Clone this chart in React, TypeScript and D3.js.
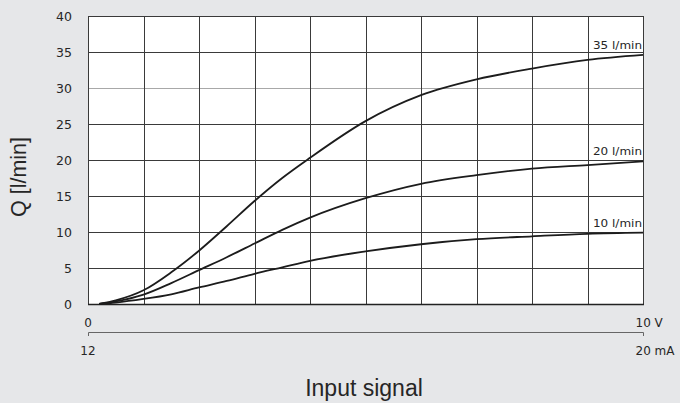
import React from "react";
import * as d3 from "d3";

const inputV = [0.2, 0.5, 1, 1.5, 2, 2.5, 3, 3.5, 4, 5, 6, 7, 8, 9, 10];
const flow35 = [0, 0.5, 1.9, 4.4, 7.4, 10.8, 14.3, 17.5, 20.3, 25.4, 29.0, 31.2, 32.7, 33.9, 34.6];
const flow20 = [0, 0.35, 1.3, 2.9, 4.7, 6.5, 8.4, 10.3, 12.0, 14.7, 16.7, 17.9, 18.8, 19.3, 19.8];
const flow10 = [0, 0.2, 0.7, 1.35, 2.3, 3.2, 4.2, 5.1, 6.0, 7.3, 8.3, 9.0, 9.4, 9.75, 9.9];
const seriesNames = ["35 l/min", "20 l/min", "10 l/min"];
const seriesValues = [flow35, flow20, flow10];
const yTicks = [0, 5, 10, 15, 20, 25, 30, 35, 40];
const xGrid = [0, 1, 2, 3, 4, 5, 6, 7, 8, 9, 10];
const voltLabels = ["0", "10"];
const currentLabels = ["12", "20"];
const voltUnit = "V";
const currentUnit = "mA";
const yTitle = "Q [l/min]";
const xTitle = "Input signal";

const W = 680;
const H = 403;
const left = 88;
const right = 643;
const top = 16;
const bottom = 304;

export default function App() {
  const x = d3.scaleLinear().domain([0, 10]).range([left, right]);
  const y = d3.scaleLinear().domain([0, 40]).range([bottom, top]);
  const line = d3
    .line<number>()
    .x((_, i) => x(inputV[i]))
    .y((d) => y(d))
    .curve(d3.curveMonotoneX);

  const tickFont = "'DejaVu Sans', Verdana, sans-serif";
  const dark = "#262626";

  return (
    <svg
      width={W}
      height={H}
      style={{ position: "fixed", left: 0, top: 0, display: "block" }}
    >
      <rect x={0} y={0} width={W} height={H} fill="#e6e7e9" />
      <rect x={left} y={top} width={right - left} height={bottom - top} fill="#ffffff" />
      {yTicks.map((t) => (
        <line
          key={"h" + t}
          x1={left}
          x2={right}
          y1={Math.round(y(t)) + 0.5}
          y2={Math.round(y(t)) + 0.5}
          stroke={t === 30 ? "#a8a8a8" : "#3a3a3a"}
          strokeWidth={1}
        />
      ))}
      {xGrid.map((t) => (
        <line
          key={"v" + t}
          x1={Math.round(x(t)) + 0.5}
          x2={Math.round(x(t)) + 0.5}
          y1={top}
          y2={bottom}
          stroke="#3a3a3a"
          strokeWidth={1}
        />
      ))}
      <line x1={left} x2={right + 1} y1={bottom + 0.5} y2={bottom + 0.5} stroke="#222" strokeWidth={1.3} />
      {seriesValues.map((vals, i) => (
        <path
          key={seriesNames[i]}
          d={line(vals) || ""}
          fill="none"
          stroke="#1c1c1c"
          strokeWidth={1.8}
        />
      ))}
      {seriesValues.map((vals, i) => (
        <text
          key={"l" + i}
          x={right - 1}
          y={y(vals[vals.length - 1]) - 6}
          textAnchor="end"
          fontFamily={tickFont}
          fontSize={10.5}
          fill={dark}
          textLength={49}
          lengthAdjust="spacingAndGlyphs"
        >
          {seriesNames[i]}
        </text>
      ))}
      {yTicks.map((t) => (
        <text
          key={"yt" + t}
          x={72}
          y={y(t)}
          dy="0.36em"
          textAnchor="end"
          fontFamily={tickFont}
          fontSize={12.5}
          fill={dark}
        >
          {t}
        </text>
      ))}
      <path
        d={`M${x(0) + 0.5},${336}V${332.5}H${x(10) + 0.5}V${336}`}
        fill="none"
        stroke="#666"
        strokeWidth={1}
      />
      <text x={x(0)} y={327} textAnchor="middle" fontFamily={tickFont} fontSize={12} fill={dark}>
        {voltLabels[0]}
      </text>
      <text x={x(0)} y={355} textAnchor="middle" fontFamily={tickFont} fontSize={12} fill={dark}>
        {currentLabels[0]}
      </text>
      <text x={x(10) - 7.5} y={327} fontFamily={tickFont} fontSize={12} fill={dark}>
        {voltLabels[1] + " " + voltUnit}
      </text>
      <text x={x(10) - 7.5} y={355} fontFamily={tickFont} fontSize={12} fill={dark}>
        {currentLabels[1] + " " + currentUnit}
      </text>
      <text
        transform={`translate(26,177) rotate(-90)`}
        textAnchor="middle"
        fontFamily="'Liberation Sans', Arial, sans-serif"
        fontSize={21.5}
        fill={dark}
      >
        {yTitle}
      </text>
      <text
        x={364}
        y={396}
        textAnchor="middle"
        fontFamily="'Liberation Sans', Arial, sans-serif"
        fontSize={23}
        fill={dark}
      >
        {xTitle}
      </text>
    </svg>
  );
}
